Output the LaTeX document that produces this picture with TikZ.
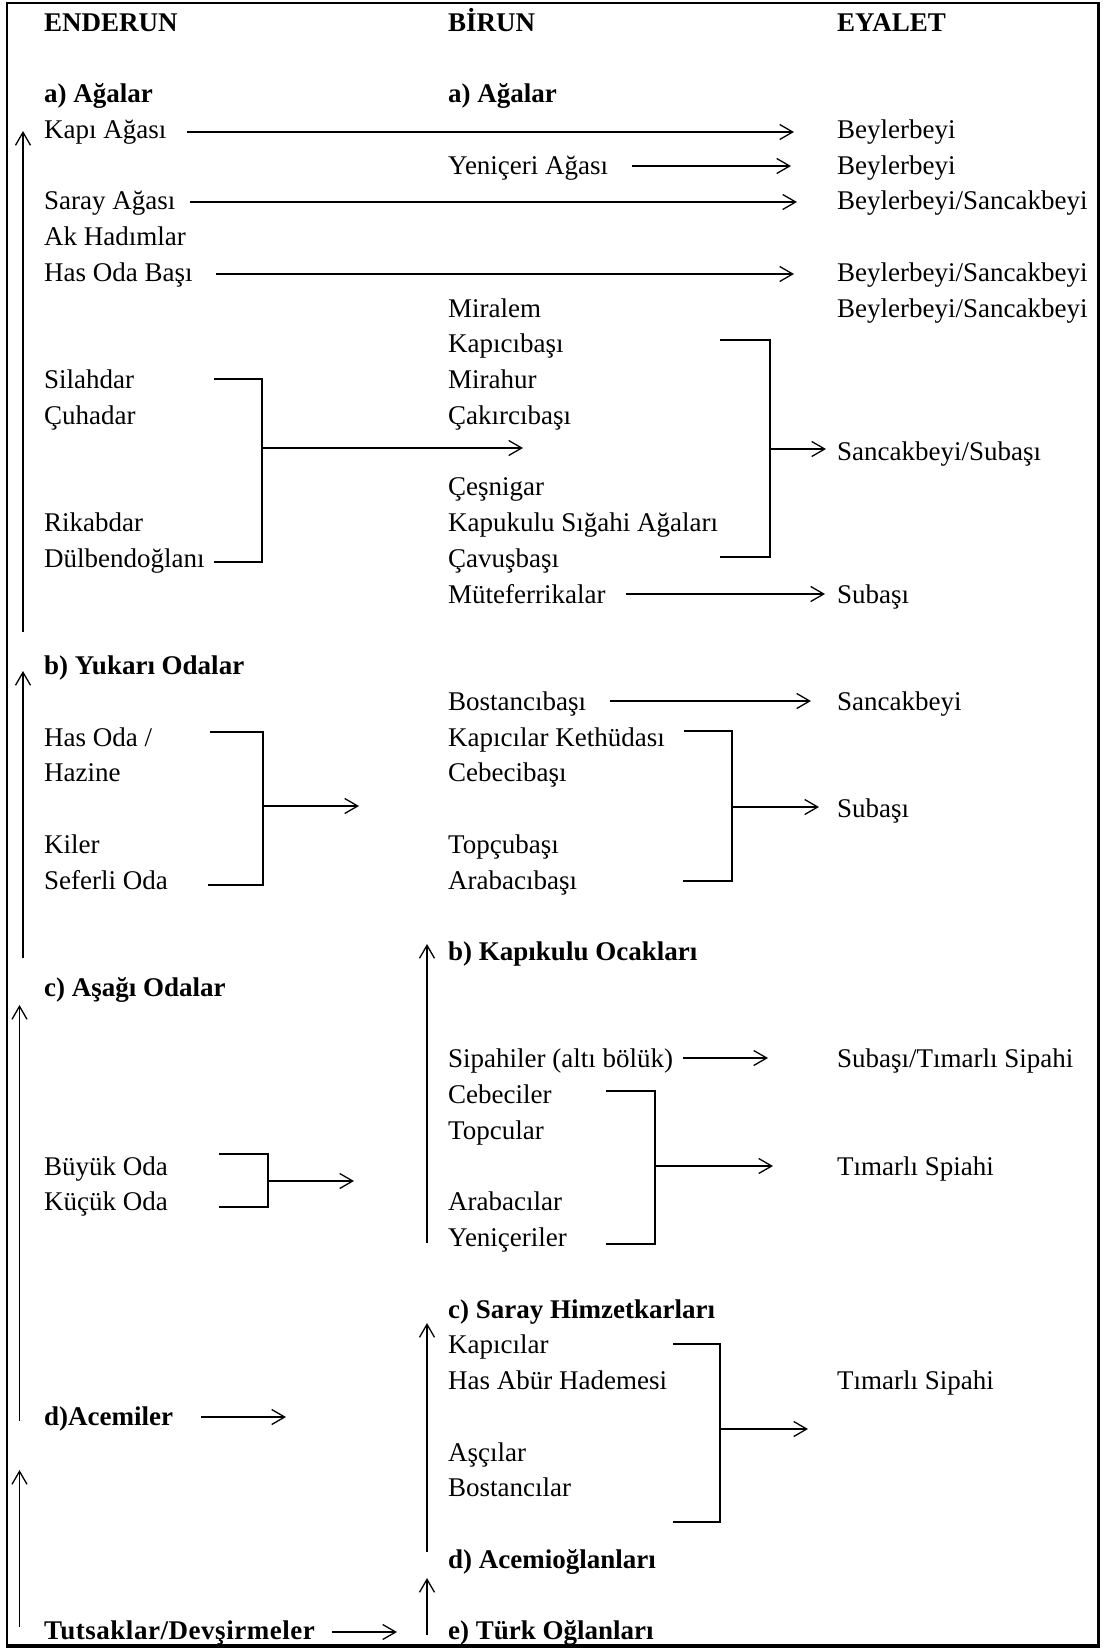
\documentclass[tikz,border=0pt]{standalone}
\usepackage{fontspec}
\setmainfont{Liberation Serif}
\newfontfamily\spacedfont[LetterSpace=2]{Liberation Serif}
\usetikzlibrary{arrows.meta}
\newcommand\Ry[1]{31.1+35.75*#1}
\tikzset{
  txt/.style={anchor=base west, inner sep=0pt, font=\fontsize{27}{30}\selectfont},
  hd/.style={anchor=base west, inner sep=0pt, font=\fontsize{27}{30}\selectfont\bfseries},
  ln/.style={line width=1.3pt},
  arr/.style={line width=1.3pt, -{Straight Barb[length=13pt,width=15pt]}},
  brk/.style={line width=1.8pt},
  thinbrk/.style={line width=1.1pt},
}
\begin{document}
\begin{tikzpicture}[x=1pt,y=-1pt]
\useasboundingbox (0,0) rectangle (1103,1648);
% frame
\draw[line width=1.2pt] (7,3) rectangle (1098,1645);
\draw[line width=3pt] (1098.5,2) -- (1098.5,1646) -- (6,1646);

% ---------- left column ----------
\node[hd]  (enderun) at (44,{\Ry{0}}) {ENDERUN};
\node[hd]  (eaga)    at (44,{\Ry{2}}) {a) Ağalar};
\node[txt] (kapi)    at (44,{\Ry{3}}) {Kapı Ağası};
\node[txt] (saray)   at (44,{\Ry{5}}) {Saray Ağası};
\node[txt] (akhad)   at (44,{\Ry{6}}) {Ak Hadımlar};
\node[txt] (hasbasi) at (44,{\Ry{7}}) {Has Oda Başı};
\node[txt] (silah)   at (44,{\Ry{10}}) {Silahdar};
\node[txt] (cuha)    at (44,{\Ry{11}}) {Çuhadar};
\node[txt] (rikab)   at (44,{\Ry{14}}) {Rikabdar};
\node[txt] (dulb)    at (44,{\Ry{15}}) {Dülbendoğlanı};
\node[hd]  (yukari)  at (44,{\Ry{18}}) {b) Yukarı Odalar};
\node[txt] (hasoda)  at (44,{\Ry{20}}) {Has Oda /};
\node[txt] (hazine)  at (44,{\Ry{21}}) {Hazine};
\node[txt] (kiler)   at (44,{\Ry{23}}) {Kiler};
\node[txt] (seferli) at (44,{\Ry{24}}) {Seferli Oda};
\node[hd]  (asagi)   at (44,{\Ry{27}}) {c) Aşağı Odalar};
\node[txt] (buyuk)   at (44,{\Ry{32}}) {Büyük Oda};
\node[txt] (kucuk)   at (44,{\Ry{33}}) {Küçük Oda};
\node[hd]  (acemi)   at (44,{\Ry{39}}) {d)Acemiler};
\node[anchor=base west, inner sep=0pt, font=\fontsize{27}{30}\spacedfont\bfseries]
           (tutsak)  at (44,{\Ry{45}}) {Tutsaklar/Devşirmeler};

% ---------- middle column ----------
\node[hd]  (birun)   at (448,{\Ry{0}}) {BİRUN};
\node[hd]  (baga)    at (448,{\Ry{2}}) {a) Ağalar};
\node[txt] (yenaga)  at (448,{\Ry{4}}) {Yeniçeri Ağası};
\node[txt] (miralem) at (448,{\Ry{8}}) {Miralem};
\node[txt] (kapicib) at (448,{\Ry{9}}) {Kapıcıbaşı};
\node[txt] (mirahur) at (448,{\Ry{10}}) {Mirahur};
\node[txt] (cakirci) at (448,{\Ry{11}}) {Çakırcıbaşı};
\node[txt] (cesni)   at (448,{\Ry{13}}) {Çeşnigar};
\node[txt] (kapukul) at (448,{\Ry{14}}) {Kapukulu Sığahi Ağaları};
\node[txt] (cavus)   at (448,{\Ry{15}}) {Çavuşbaşı};
\node[txt] (mutef)   at (448,{\Ry{16}}) {Müteferrikalar};
\node[txt] (bostb)   at (448,{\Ry{19}}) {Bostancıbaşı};
\node[txt] (kapket)  at (448,{\Ry{20}}) {Kapıcılar Kethüdası};
\node[txt] (cebecib) at (448,{\Ry{21}}) {Cebecibaşı};
\node[txt] (topcub)  at (448,{\Ry{23}}) {Topçubaşı};
\node[txt] (arabab)  at (448,{\Ry{24}}) {Arabacıbaşı};
\node[hd]  (kapocak) at (448,{\Ry{26}}) {b) Kapıkulu Ocakları};
\node[txt] (sipah)   at (448,{\Ry{29}}) {Sipahiler (altı bölük)};
\node[txt] (cebecil) at (448,{\Ry{30}}) {Cebeciler};
\node[txt] (topcul)  at (448,{\Ry{31}}) {Topcular};
\node[txt] (arabal)  at (448,{\Ry{33}}) {Arabacılar};
\node[txt] (yenil)   at (448,{\Ry{34}}) {Yeniçeriler};
\node[hd]  (himzet)  at (448,{\Ry{36}}) {c) Saray Himzetkarları};
\node[txt] (kapicil) at (448,{\Ry{37}}) {Kapıcılar};
\node[txt] (hasabur) at (448,{\Ry{38}}) {Has Abür Hademesi};
\node[txt] (ascilar) at (448,{\Ry{40}}) {Aşçılar};
\node[txt] (bostl)   at (448,{\Ry{41}}) {Bostancılar};
\node[hd]  (acemog)  at (448,{\Ry{43}}) {d) Acemioğlanları};
\node[hd]  (turk)    at (448,{\Ry{45}}) {e) Türk Oğlanları};

% ---------- right column ----------
\node[hd]  (eyalet)  at (837,{\Ry{0}}) {EYALET};
\node[txt] (r3)  at (837,{\Ry{3}})  {Beylerbeyi};
\node[txt] (r4)  at (837,{\Ry{4}})  {Beylerbeyi};
\node[txt] (r5)  at (837,{\Ry{5}})  {Beylerbeyi/Sancakbeyi};
\node[txt] (r7)  at (837,{\Ry{7}})  {Beylerbeyi/Sancakbeyi};
\node[txt] (r8)  at (837,{\Ry{8}})  {Beylerbeyi/Sancakbeyi};
\node[txt] (r12) at (837,{\Ry{12}}) {Sancakbeyi/Subaşı};
\node[txt] (r16) at (837,{\Ry{16}}) {Subaşı};
\node[txt] (r19) at (837,{\Ry{19}}) {Sancakbeyi};
\node[txt] (r22) at (837,{\Ry{22}}) {Subaşı};
\node[txt] (r29) at (837,{\Ry{29}}) {Subaşı/Tımarlı Sipahi};
\node[txt] (r32) at (837,{\Ry{32}}) {Tımarlı Spiahi};
\node[txt] (r38) at (837,{\Ry{38}}) {Tımarlı Sipahi};

% ---------- connector end points ----------
% left vertical arrows
\coordinate (l1s) at (23,632);   \coordinate (l1e) at (23,131);
\coordinate (l2s) at (23,958);   \coordinate (l2e) at (23,671);
\coordinate (l3s) at (19.5,1421);\coordinate (l3e) at (19.5,1005);
\coordinate (l4s) at (19.5,1627);\coordinate (l4e) at (19.5,1470);
% middle vertical arrows
\coordinate (m1s) at (427,1243); \coordinate (m1e) at (427,944);
\coordinate (m2s) at (427,1552); \coordinate (m2e) at (427,1323);
\coordinate (m3s) at (427,1635); \coordinate (m3e) at (427,1578);
% straight arrows
\coordinate (h1s) at (187,132);  \coordinate (h1e) at (794,132);
\coordinate (h2s) at (632,166);  \coordinate (h2e) at (791,166);
\coordinate (h3s) at (190,202);  \coordinate (h3e) at (797,202);
\coordinate (h4s) at (216,274);  \coordinate (h4e) at (794,274);
\coordinate (h5s) at (626,594);  \coordinate (h5e) at (825,594);
\coordinate (h6s) at (610,701);  \coordinate (h6e) at (811,701);
\coordinate (h7s) at (683,1058); \coordinate (h7e) at (768,1058);
\coordinate (h8s) at (201,1417); \coordinate (h8e) at (286,1417);
\coordinate (h9s) at (332,1632); \coordinate (h9e) at (397,1632);
% brackets: a=top-left, b=top-right, c=bottom-right, d=bottom-left, m=arrow start, t=arrow tip
\coordinate (b1a) at (214,379); \coordinate (b1b) at (262,379); \coordinate (b1c) at (262,562); \coordinate (b1d) at (214,562);
\coordinate (b1m) at (262,448); \coordinate (b1t) at (523,448);
\coordinate (b2a) at (720,340); \coordinate (b2b) at (770,340); \coordinate (b2c) at (770,557); \coordinate (b2d) at (720,557);
\coordinate (b2m) at (770,449); \coordinate (b2t) at (826,449);
\coordinate (b3a) at (210,732); \coordinate (b3b) at (263,732); \coordinate (b3c) at (263,885); \coordinate (b3d) at (208,885);
\coordinate (b3m) at (263,806); \coordinate (b3t) at (359,806);
\coordinate (b4a) at (684,731); \coordinate (b4b) at (732,731); \coordinate (b4c) at (732,881); \coordinate (b4d) at (683,881);
\coordinate (b4m) at (732,807); \coordinate (b4t) at (819,807);
\coordinate (b5a) at (606,1091); \coordinate (b5b) at (655,1091); \coordinate (b5c) at (655,1244); \coordinate (b5d) at (606,1244);
\coordinate (b5m) at (655,1166); \coordinate (b5t) at (773,1166);
\coordinate (b6a) at (219,1154); \coordinate (b6b) at (268,1154); \coordinate (b6c) at (268,1207); \coordinate (b6d) at (219,1207);
\coordinate (b6m) at (268,1181); \coordinate (b6t) at (354,1181);
\coordinate (b7a) at (673,1344); \coordinate (b7b) at (720,1344); \coordinate (b7c) at (720,1522); \coordinate (b7d) at (673,1522);
\coordinate (b7m) at (720,1429); \coordinate (b7t) at (808,1429);

% ---------- connectors ----------
\foreach \n in {l1,l2,l3,l4,m1,m2,m3,h1,h2,h3,h4,h5,h6,h7,h8,h9}
  \draw[arr] (\n s) -- (\n e);
\foreach \n in {b1,b2,b3,b4,b5,b7}{
  \draw[brk] (\n a) -- (\n b) -- (\n c) -- (\n d);
  \draw[arr] (\n m) -- (\n t);
}
\draw[thinbrk] (b6a) -- (b6b) -- (b6c) -- (b6d);
\draw[arr] (b6m) -- (b6t);
\end{tikzpicture}
\end{document}
